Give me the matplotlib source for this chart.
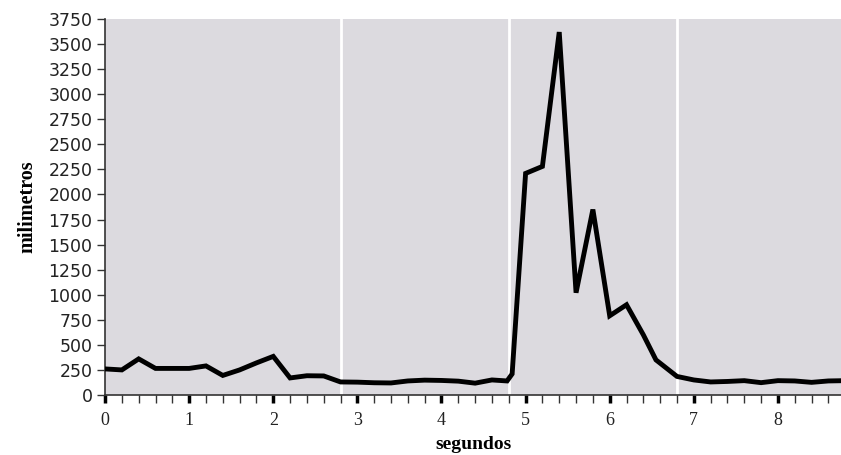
import matplotlib
matplotlib.use("Agg")
import matplotlib.pyplot as plt
from matplotlib.ticker import MultipleLocator

# tiempo (s) y distancia (mm)
segundos = [0.0, 0.2, 0.4, 0.6, 0.8, 1.0, 1.2, 1.4, 1.6, 1.8, 2.0, 2.2, 2.4, 2.6,
            2.8, 3.0, 3.2, 3.4, 3.6, 3.8, 4.0, 4.2, 4.4, 4.6, 4.78, 4.84,
            5.0, 5.2, 5.4, 5.6, 5.8, 6.0, 6.2, 6.4, 6.55, 6.8,
            7.0, 7.2, 7.4, 7.6, 7.8, 8.0, 8.2, 8.4, 8.6, 8.8]
milimetros = [260, 250, 360, 265, 265, 265, 290, 195, 250, 320, 385, 170, 192, 190,
              130, 128, 122, 120, 140, 148, 145, 138, 118, 150, 140, 210,
              2210, 2280, 3620, 1020, 1850, 790, 900, 600, 350, 185,
              150, 130, 135, 143, 123, 143, 140, 126, 140, 143]
separadores = [2.8, 4.8, 6.8]

fig = plt.figure(figsize=(8.41, 4.55), dpi=100)
ax = fig.add_axes([0.1249, 0.1319, 0.8751, 0.8263])
ax.set_facecolor("#dcdadf")

for s in separadores:
    ax.axvline(s, color="white", linewidth=2, zorder=1)

ax.plot(segundos, milimetros, color="black", linewidth=3.5,
        solid_joinstyle="miter", zorder=3)

ax.set_xlim(0, 8.75)
ax.set_ylim(0, 3750)
ax.yaxis.set_major_locator(MultipleLocator(250))
ax.xaxis.set_major_locator(MultipleLocator(1))
ax.xaxis.set_minor_locator(MultipleLocator(0.2))

for side in ["top", "right"]:
    ax.spines[side].set_visible(False)
for side in ["left", "bottom"]:
    ax.spines[side].set_color("#333333")
    ax.spines[side].set_linewidth(1.2)

ax.tick_params(axis="y", direction="out", length=6, width=1, color="#333333",
               labelsize=12.5, pad=3, labelfontfamily="DejaVu Sans",
               labelcolor="#222222")
ax.tick_params(axis="x", which="major", direction="out", length=6, width=2.5,
               color="black", pad=6, labelsize=13,
               labelfontfamily="Liberation Serif", labelcolor="#222222")
ax.tick_params(axis="x", which="minor", direction="out", length=6, width=1,
               color="#333333")

ax.set_xlabel("segundos", fontfamily="Liberation Serif", fontweight="bold",
              fontsize=14, labelpad=5)
ax.set_ylabel("milimetros", fontfamily="Liberation Serif", fontweight="bold",
              fontsize=14.5, labelpad=8)

fig.savefig("out.png", dpi=100)
